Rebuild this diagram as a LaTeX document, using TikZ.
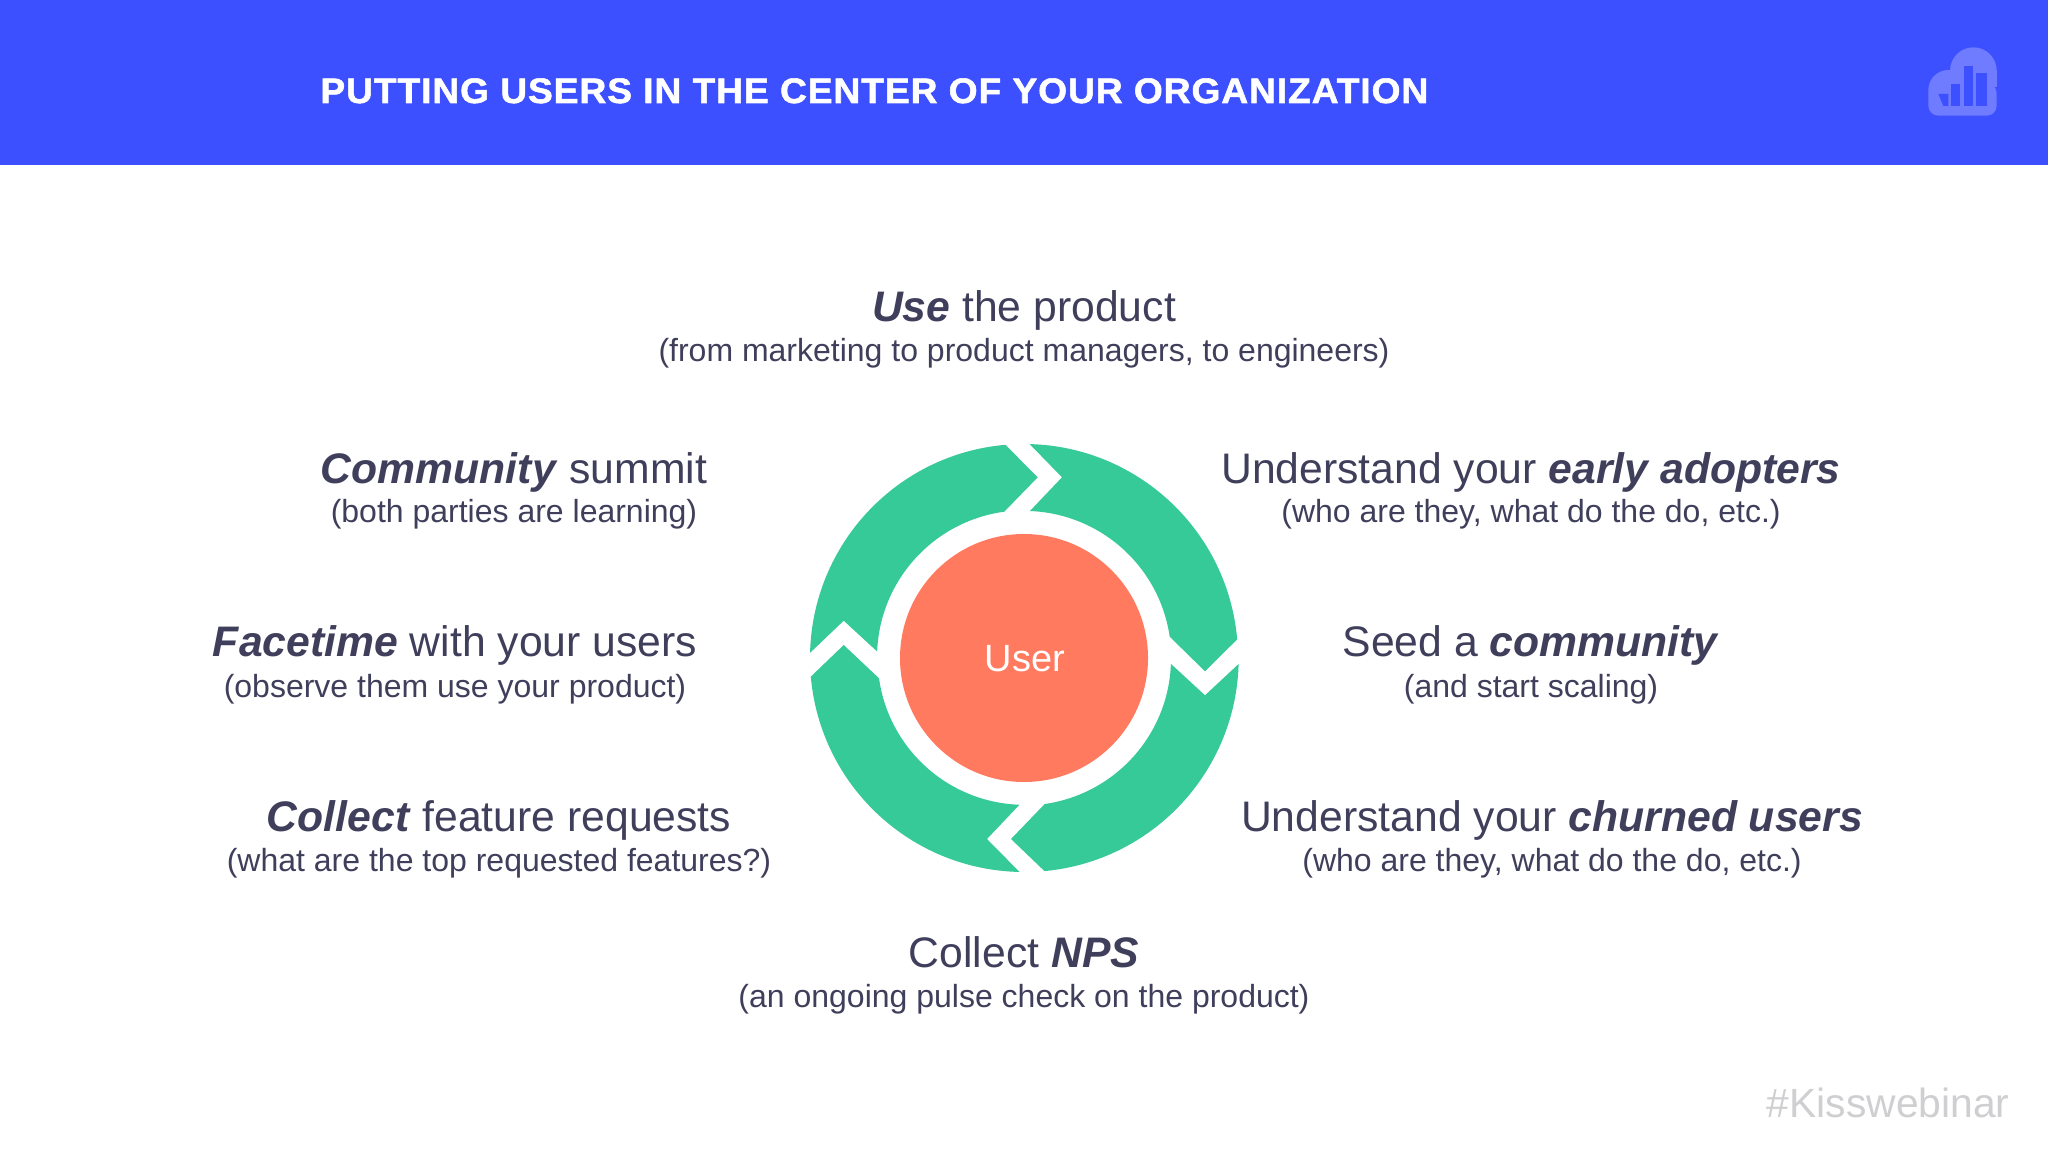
\documentclass[tikz,border=0pt]{standalone}
\usepackage{fontspec}
\setmainfont{Liberation Sans}
\newfontfamily\titlefont[FakeStretch=1.05,FakeBold=1.5,LetterSpace=2.6]{Liberation Sans Bold}
\definecolor{hdr}{HTML}{3D50FF}
\definecolor{grn}{HTML}{35CA98}
\definecolor{org}{HTML}{FF7A5E}
\definecolor{ink}{HTML}{3F3F5C}
\definecolor{tagc}{HTML}{CFCFD2}
\definecolor{logoc}{HTML}{6F7CFF}
\tikzset{
  seg/.style={fill=grn,draw=none},
  main/.style={text=ink,font=\fontsize{21.35}{24}\selectfont,inner sep=0pt,anchor=base},
  sub/.style={text=ink,font=\fontsize{16}{19}\selectfont,inner sep=0pt,anchor=base},
}
\begin{document}
\begin{tikzpicture}[x=0.5pt,y=0.5pt]
\useasboundingbox (0,0) rectangle (2048,1152);
\fill[white] (0,0) rectangle (2048,1152);
\fill[hdr] (0,987) rectangle (2048,1152);
\node[anchor=base west,inner sep=0pt,text=white,font=\titlefont\fontsize{17.7}{20}\selectfont] (title) at (320,1049) {PUTTING USERS IN THE CENTER OF YOUR ORGANIZATION};
% logo, in the coordinates of a 3x crop of the corner
\begin{scope}[shift={(1880,1132)},x=0.16667pt,y=-0.16667pt]
\fill[logoc] (280,152) circle[radius=70];
\fill[logoc] (205,210) circle[radius=60];
\fill[logoc,rounded corners=5pt] (145,190) rectangle (350,287);
\fill[logoc] (210,150) rectangle (350,200);
\fill[hdr] (175,222) -- (205,222) -- (205,258) -- (190,258) -- cycle;
\fill[hdr] (213,192) rectangle (241,258);
\fill[hdr] (251,138) rectangle (280,258);
\fill[hdr] (289,160) rectangle (320,258);
\end{scope}
\begin{scope}[shift={(1024,494)}]
\path[seg] (88.5:214) arc[start angle=88.5,end angle=5,radius=214] -- (181,-13.3) -- (145.7,21.3) arc[start angle=8.3,end angle=87.8,radius=147] -- (38,180.7) -- cycle;
\path[seg] (-1.6:214.7) arc[start angle=-1.6,end angle=-84.7,radius=214] -- (-13,-181) -- (20.7,-146) arc[start angle=-81.9,end angle=-2.1,radius=147] -- (181,-37.3) -- cycle;
\path[seg] (-91.2:214) arc[start angle=-91.2,end angle=-175,radius=214] -- (-180.3,13) -- (-145,-20.3) arc[start angle=-172,end angle=-92,radius=147] -- (-37,-181) -- cycle;
\path[seg] (178.6:214) arc[start angle=178.6,end angle=95,radius=214] -- (13.7,180.7) -- (-19.7,146.3) arc[start angle=97.7,end angle=177.7,radius=147] -- (-180.3,37.3) -- cycle;
\node[circle,fill=org,minimum size=124pt,inner sep=0pt] (user) at (0,0) {};
\node[text=white,font=\fontsize{19}{20}\selectfont,inner sep=0pt] (userlabel) at (1,-1) {User};
\end{scope}
\node[main] (a1) at (1024,830) {\textbf{\textit{Use}} the product};
\node[sub] (a2) at (1024,790) {(from marketing to product managers, to engineers)};
\node[main] (b1) at (514,668) {\textbf{\textit{Community}} summit};
\node[sub] (b2) at (514,629) {(both parties are learning)};
\node[main] (c1) at (455,495) {\textbf{\textit{Facetime}} with your users};
\node[sub] (c2) at (455,455) {(observe them use your product)};
\node[main] (d1) at (499,321) {\textbf{\textit{Collect}} feature requests};
\node[sub] (d2) at (499,281) {(what are the top requested features?)};
\node[main] (e1) at (1531,668) {Understand your \textbf{\textit{early adopters}}};
\node[sub] (e2) at (1531,629) {(who are they, what do the do, etc.)};
\node[main] (f1) at (1531,495) {Seed a \textbf{\textit{community}}};
\node[sub] (f2) at (1531,455) {(and start scaling)};
\node[main] (g1) at (1552,321) {Understand your \textbf{\textit{churned users}}};
\node[sub] (g2) at (1552,281) {(who are they, what do the do, etc.)};
\node[main] (h1) at (1024,185) {Collect \textbf{\textit{NPS}}};
\node[sub] (h2) at (1024,145) {(an ongoing pulse check on the product)};
\node[anchor=base east,inner sep=0pt,text=tagc,font=\fontsize{20.4}{24}\selectfont] (tag) at (2010,35) {\#Kisswebinar};
\end{tikzpicture}
\end{document}
